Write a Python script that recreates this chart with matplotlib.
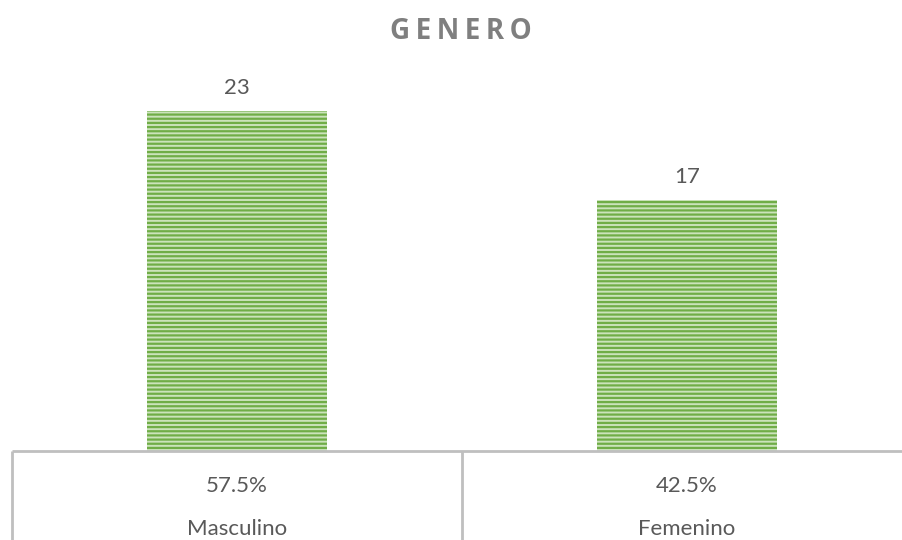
import matplotlib
matplotlib.use("Agg")
import matplotlib.pyplot as plt
from matplotlib.transforms import blended_transform_factory

categories = ["Masculino", "Femenino"]
values = [23, 17]
total = sum(values)
pct_labels = [f"{v / total * 100:.1f}%" for v in values]

FONT = ["Lato", "DejaVu Sans"]
TFONT = ["Open Sans", "DejaVu Sans"]
TEXT = "#595959"
GRID = "#BFBFBF"
plt.rcParams["hatch.linewidth"] = 1.6

W, H = 902, 540
fig = plt.figure(figsize=(W / 100, H / 100), dpi=100)
ax_left, ax_right = 12, 912
ax_bottom, ax_top = 451, 60
ax = fig.add_axes([ax_left / W, 1 - ax_bottom / H,
                   (ax_right - ax_left) / W, (ax_bottom - ax_top) / H])

x = list(range(len(categories)))
bars = ax.bar(x, values, width=0.4, color="#CBE3BB", edgecolor="#70AD47",
              linewidth=0, hatch="----")
ax.set_xlim(-0.5, len(categories) - 0.5)
ax.set_ylim(0, 23 * (ax_bottom - ax_top) / 340)
ax.axis("off")

for b, v in zip(bars, values):
    ax.annotate(str(v), (b.get_x() + b.get_width() / 2, v),
                xytext=(0, 12), textcoords="offset points",
                ha="center", va="baseline", fontsize=16, color=TEXT, family=FONT)

# category table below the axis
tr = blended_transform_factory(ax.transData, fig.transFigure)
y0 = 1 - ax_bottom / H
ax.plot([-0.5, len(categories) - 0.5], [y0, y0], transform=tr, color=GRID,
        lw=2.0, clip_on=False, solid_capstyle="butt")
for xb in [i - 0.5 for i in range(len(categories) + 1)]:
    ax.plot([xb, xb], [y0, -0.05], transform=tr, color=GRID, lw=2.0,
            clip_on=False, solid_capstyle="butt")
for i, (cat, p) in enumerate(zip(categories, pct_labels)):
    ax.text(i, 1 - 492 / H, p, transform=tr, ha="center", va="baseline",
            fontsize=16, color=TEXT, family=FONT)
    ax.text(i, 1 - 535 / H, cat, transform=tr, ha="center", va="baseline",
            fontsize=16, color=TEXT, family=FONT)

fig.text(461 / W, 1 - 39 / H, "\u2009".join("GENERO"), ha="center", va="baseline",
         fontsize=20, fontweight="bold", color="#7F7F7F", family=TFONT)

fig.savefig("out.png", dpi=100)
